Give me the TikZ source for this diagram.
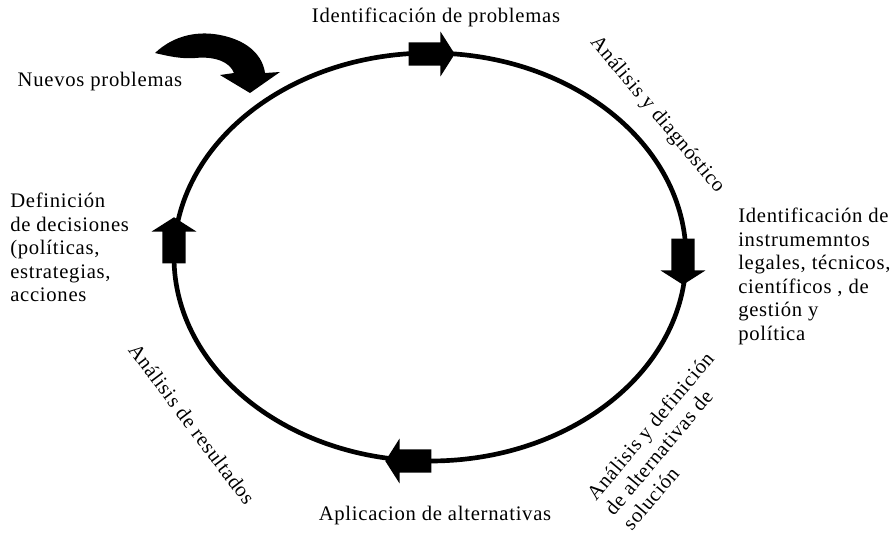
\documentclass[tikz,border=0pt]{standalone}
\usepackage{fontspec}
\setmainfont[LetterSpace=3.5]{Liberation Serif}
\usetikzlibrary{shapes.arrows}
\tikzset{
	etiqueta/.style={font=\fontsize{15.5}{17.6}\selectfont, inner sep=0pt},
	flecha/.style={single arrow, fill=black, draw=none, inner xsep=0pt, inner ysep=8.6pt,
		minimum height=34.5pt, minimum width=33pt,
		single arrow head extend=8pt, single arrow tip angle=115}
}
\begin{document}
\begin{tikzpicture}[x=0.75pt, y=-0.75pt]
	\useasboundingbox (0,0) rectangle (892,533);
	
	% ciclo
	\draw [line width=3.5pt] (430,257) ellipse [x radius=256, y radius=204];
	
	% flechas sobre el ciclo
	\node [flecha] (arriba) at (428,54) {};
	\node [flecha, rotate=-90] (derecha) at (683,258) {};
	\node [flecha, rotate=180] (abajo) at (412,461) {};
	\node [flecha, rotate=90] (izquierda) at (174,244) {};
	
	% nuevos problemas
	\fill (155,53) .. controls (175,34) and (200,31) .. (220,35) .. controls (251,41) and (263,58) .. (265,73) -- (280,72) -- (250,93) -- (220,75) -- (234,73) .. controls (230,62) and (215,56) .. (195,58) .. controls (180,59) and (168,56) .. (155,53) -- cycle;
	
	% etiquetas
	\node [etiqueta] (identificacion) at (436,17) {Identificación de problemas};
	\node [etiqueta] (nuevos) at (100,82) {Nuevos problemas};
	\node [etiqueta, rotate=-50] (diagnostico) at (657,115) {Análisis y diagnóstico};
	\node [etiqueta, anchor=north west, align=left] (instrumentos) at (738,208) {Identificación de\\instrumemntos\\legales, técnicos,\\científicos , de\\gestión y\\política};
	\node [etiqueta, anchor=north west, align=left] (decisiones) at (10,193) {Definición\\de decisiones\\(políticas,\\estrategias,\\acciones};
	\node [etiqueta, rotate=-53] (resultados) at (192,424) {Análisis de resultados};
	\node [etiqueta] (aplicacion) at (435,516) {Aplicacion de alternativas};
	\node [etiqueta, rotate=50, align=left] (alternativas) at (668,441) {Análisis y definición\\de alternativas de\\solución};
\end{tikzpicture}
\end{document}
